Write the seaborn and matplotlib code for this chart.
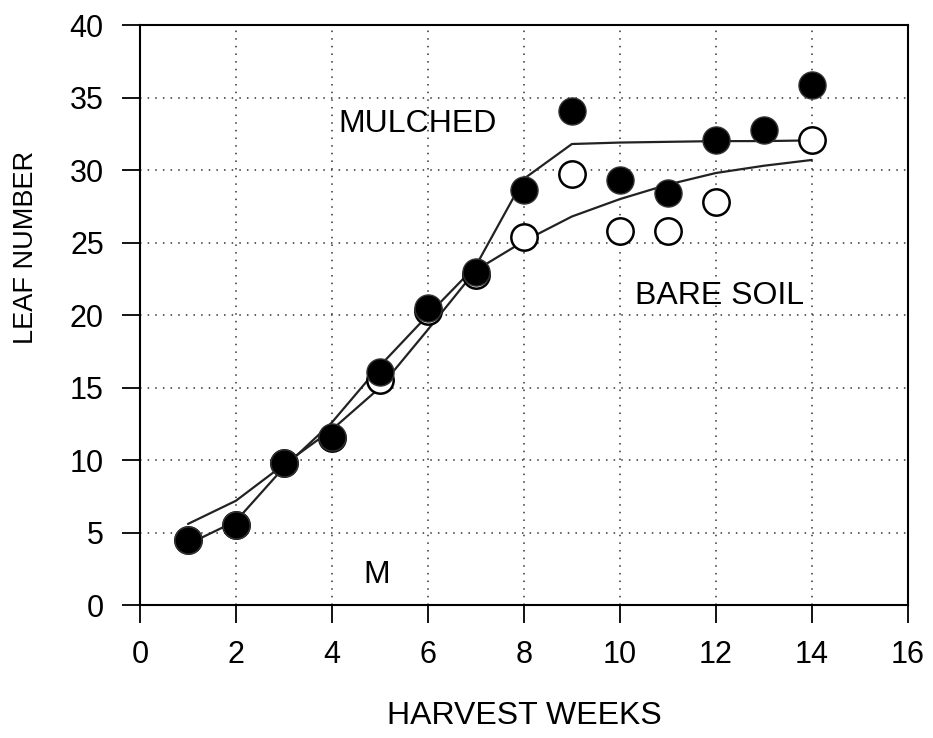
import matplotlib
matplotlib.use("Agg")
import matplotlib.pyplot as plt
import seaborn as sns
import pandas as pd

# Observed leaf number per harvest week
weeks_mulched = [1, 2, 3, 4, 5, 6, 7, 8, 9, 10, 11, 12, 13, 14]
leaf_mulched = [4.5, 5.5, 9.8, 11.6, 16.1, 20.5, 23.0, 28.6, 34.1, 29.3, 28.4, 32.1, 32.8, 35.9]

weeks_bare = [1, 2, 3, 4, 5, 6, 7, 8, 9, 10, 11, 12, 14]
leaf_bare = [4.5, 5.5, 9.8, 11.5, 15.5, 20.3, 22.8, 25.4, 29.7, 25.8, 25.8, 27.8, 32.1]

# Fitted response curves
weeks_fit = [1, 2, 3, 4, 5, 6, 7, 8, 9, 10, 11, 12, 13, 14]
fit_mulched = [4.2, 5.8, 9.5, 12.6, 16.5, 20.0, 23.4, 29.4, 31.8, 31.9, 31.95, 32.0, 32.0, 32.05]
fit_bare = [5.6, 7.2, 9.7, 12.1, 15.0, 19.0, 23.1, 25.1, 26.8, 28.0, 29.0, 29.8, 30.3, 30.7]

x_ticks = [0, 2, 4, 6, 8, 10, 12, 14, 16]
y_ticks = [0, 5, 10, 15, 20, 25, 30, 35, 40]

sns.set_theme(style="white")
plt.rcParams["font.family"] = ["Liberation Sans", "DejaVu Sans"]

fig = plt.figure(figsize=(9.33, 7.38), dpi=100)
ax = fig.add_axes([0.150, 0.180, 0.823, 0.786])

fits = pd.DataFrame({"week": weeks_fit, "mulched": fit_mulched, "bare": fit_bare})
sns.lineplot(data=fits, x="week", y="bare", ax=ax, color="#222222", lw=1.6, zorder=2)
sns.lineplot(data=fits, x="week", y="mulched", ax=ax, color="#222222", lw=1.6, zorder=2)

bare = pd.DataFrame({"week": weeks_bare, "leaf": leaf_bare})
mulched = pd.DataFrame({"week": weeks_mulched, "leaf": leaf_mulched})
sns.scatterplot(data=bare, x="week", y="leaf", ax=ax, s=360, marker="o",
                facecolor="white", edgecolor="black", linewidth=1.8, zorder=3)
sns.scatterplot(data=mulched, x="week", y="leaf", ax=ax, s=380, marker="o",
                color="black", edgecolor="#333333", linewidth=1.0, zorder=4)

ax.set_xlim(0, 16)
ax.set_ylim(0, 40)
ax.set_xticks(x_ticks)
ax.set_yticks(y_ticks)
ax.set_xticklabels([str(t) for t in x_ticks])
ax.set_yticklabels([str(t) for t in y_ticks])

ax.grid(True, color="#333333", linestyle=(0, (1, 4)), linewidth=1.1)
for s in ax.spines.values():
    s.set_visible(True)
    s.set_color("black")
    s.set_linewidth(1.5)

ax.tick_params(axis="both", which="major", bottom=True, left=True, direction="out",
               length=13, width=1.3, color="black", labelsize=22, labelcolor="black")
ax.tick_params(axis="x", pad=12)
ax.tick_params(axis="y", pad=13)

ax.set_xlabel("HARVEST WEEKS", fontsize=23, color="black")
ax.xaxis.set_label_coords(0.5, -0.165)
ax.set_ylabel("LEAF NUMBER", fontsize=19.5, color="black")
ax.yaxis.set_label_coords(-0.132, 0.617)

ax.text(5.79, 33.2, "MULCHED", fontsize=23, ha="center", va="center", color="black")
ax.text(12.08, 21.3, "BARE SOIL", fontsize=23, ha="center", va="center", color="black")
ax.text(4.94, 2.07, "M", fontsize=23, ha="center", va="center", color="black")

fig.savefig("out.png", dpi=100, facecolor="white")
